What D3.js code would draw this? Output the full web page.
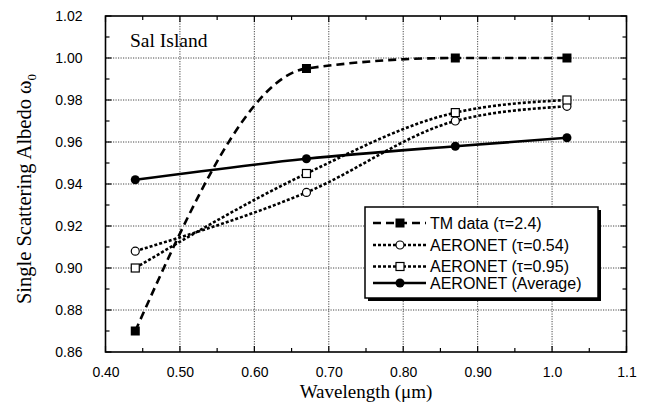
<!DOCTYPE html>
<html>
<head>
<meta charset="utf-8">
<script src="https://cdn.jsdelivr.net/npm/d3@7"></script>
<style>
  html, body { margin: 0; padding: 0; background: #fff; }
  svg { display: block; }
</style>
</head>
<body>
<svg id="chart" width="654" height="409"></svg>
<script>
// Wavelengths (µm) at which single scattering albedo was retrieved
const wavelengths = [0.44, 0.67, 0.87, 1.02];

// Single scattering albedo per data set
const tmData      = [0.870, 0.995, 1.000, 1.000];
const aeronet054  = [0.908, 0.936, 0.970, 0.977];
const aeronet095  = [0.900, 0.945, 0.974, 0.980];
const aeronetAvg  = [0.942, 0.952, 0.958, 0.962];

const seriesNames = ["TM data (\u03c4=2.4)", "AERONET (\u03c4=0.54)", "AERONET (\u03c4=0.95)", "AERONET (Average)"];

// Axis ticks and labels
const xTicks = [0.4, 0.5, 0.6, 0.7, 0.8, 0.9, 1.0, 1.1];
const xTickLabels = ["0.40", "0.50", "0.60", "0.70", "0.80", "0.90", "1.0", "1.1"];
const yTicks = [0.86, 0.88, 0.90, 0.92, 0.94, 0.96, 0.98, 1.00, 1.02];
const yTickLabels = ["0.86", "0.88", "0.90", "0.92", "0.94", "0.96", "0.98", "1.00", "1.02"];
const xMinorTicks = [0.45, 0.55, 0.65, 0.75, 0.85, 0.95, 1.05];
const yMinorTicks = [0.87, 0.89, 0.91, 0.93, 0.95, 0.97, 0.99, 1.01];

const svg = d3.select("#chart");
const L = 105.5, R = 626.5, T = 16, B = 352;

const x = d3.scaleLinear().domain([0.4, 1.1]).range([L, R]);
const y = d3.scaleLinear().domain([0.86, 1.02]).range([B, T]);

const sans = "'Liberation Sans', Arial, Helvetica, sans-serif";
const serif = "'Liberation Serif', 'Times New Roman', serif";

// Dotted grid at major ticks
const grid = svg.append("g").attr("stroke", "#333").attr("stroke-width", 0.9).attr("stroke-dasharray", "1.2,1.3");
grid.selectAll(".gx").data(xTicks.slice(1, -1)).join("line")
  .attr("x1", d => x(d)).attr("x2", d => x(d)).attr("y1", T).attr("y2", B);
grid.selectAll(".gy").data(yTicks.slice(1, -1)).join("line")
  .attr("x1", L).attr("x2", R).attr("y1", d => y(d)).attr("y2", d => y(d));

// Inward ticks on all four sides
const ticks = svg.append("g").attr("stroke", "#000").attr("stroke-width", 1.2);
[{ v: xTicks, len: 6 }, { v: xMinorTicks, len: 4 }].forEach(s => {
  ticks.append("g").selectAll("line").data(s.v).join("line")
    .attr("x1", d => x(d)).attr("x2", d => x(d)).attr("y1", B).attr("y2", B - s.len);
  ticks.append("g").selectAll("line").data(s.v).join("line")
    .attr("x1", d => x(d)).attr("x2", d => x(d)).attr("y1", T).attr("y2", T + s.len);
});
[{ v: yTicks, len: 6 }, { v: yMinorTicks, len: 4 }].forEach(s => {
  ticks.append("g").selectAll("line").data(s.v).join("line")
    .attr("x1", L).attr("x2", L + s.len).attr("y1", d => y(d)).attr("y2", d => y(d));
  ticks.append("g").selectAll("line").data(s.v).join("line")
    .attr("x1", R).attr("x2", R - s.len).attr("y1", d => y(d)).attr("y2", d => y(d));
});

// Tick labels via d3 axes
const xAxis = d3.axisBottom(x).tickValues(xTicks).tickSize(0).tickPadding(0)
  .tickFormat((d, i) => xTickLabels[i]);
svg.append("g").attr("transform", `translate(0,${B + 15})`).call(xAxis)
  .call(g => g.select(".domain").remove())
  .call(g => g.selectAll("text").attr("font-family", sans).attr("font-size", 14).attr("fill", "#000").attr("dy", "0.71em"));

const yAxis = d3.axisLeft(y).tickValues(yTicks).tickSize(0).tickPadding(0)
  .tickFormat((d, i) => yTickLabels[i]);
svg.append("g").attr("transform", `translate(${L - 23},0)`).call(yAxis)
  .call(g => g.select(".domain").remove())
  .call(g => g.selectAll("text").attr("font-family", sans).attr("font-size", 14).attr("fill", "#000"));

// Plot frame
svg.append("rect").attr("x", L).attr("y", T).attr("width", R - L).attr("height", B - T)
  .attr("fill", "none").attr("stroke", "#000").attr("stroke-width", 1.6);

// Series
const line = d3.line().x(d => x(d[0])).y(d => y(d[1])).curve(d3.curveMonotoneX);
const series = [
  { name: seriesNames[0], vals: tmData,     dash: "8,5", marker: "fsquare" },
  { name: seriesNames[1], vals: aeronet054, dash: "3,2", marker: "ocircle" },
  { name: seriesNames[2], vals: aeronet095, dash: "3,2", marker: "osquare" },
  { name: seriesNames[3], vals: aeronetAvg, dash: null,  marker: "fcircle" }
];

function drawMarker(g, kind, cx, cy) {
  if (kind === "fsquare") {
    g.append("rect").attr("x", cx - 4.5).attr("y", cy - 4.5).attr("width", 9).attr("height", 9).attr("fill", "#000");
  } else if (kind === "osquare") {
    g.append("rect").attr("x", cx - 4).attr("y", cy - 4).attr("width", 8).attr("height", 8)
      .attr("fill", "#fff").attr("stroke", "#000").attr("stroke-width", 1.2);
  } else if (kind === "ocircle") {
    g.append("circle").attr("cx", cx).attr("cy", cy).attr("r", 4)
      .attr("fill", "#fff").attr("stroke", "#000").attr("stroke-width", 1.2);
  } else {
    g.append("circle").attr("cx", cx).attr("cy", cy).attr("r", 4.5).attr("fill", "#000");
  }
}

series.forEach(s => {
  const pts = wavelengths.map((w, i) => [w, s.vals[i]]);
  svg.append("path").datum(pts).attr("d", line)
    .attr("fill", "none").attr("stroke", "#000").attr("stroke-width", 2.6)
    .attr("stroke-dasharray", s.dash);
});
series.forEach(s => {
  const g = svg.append("g");
  wavelengths.forEach((w, i) => drawMarker(g, s.marker, x(w), y(s.vals[i])));
});

// Site label
svg.append("text").attr("x", 130).attr("y", 47).text("Sal Island")
  .attr("font-family", serif).attr("font-size", 19.5).attr("fill", "#000");

// Axis titles
svg.append("text").attr("x", (L + R) / 2).attr("y", 398).attr("text-anchor", "middle")
  .attr("font-family", serif).attr("font-size", 19).attr("fill", "#000")
  .text("Wavelength (\u03bcm)");

const yt = svg.append("text").attr("transform", `translate(31,${(T + B) / 2 + 5}) rotate(-90)`)
  .attr("text-anchor", "middle").attr("font-family", serif).attr("font-size", 20.5).attr("fill", "#000");
yt.append("tspan").text("Single Scattering Albedo \u03c9");
yt.append("tspan").attr("font-size", 13).attr("dy", 5).text("0");

// Legend with drop shadow
const lg = svg.append("g");
const lx = 365, ly = 207, lw = 233, lh = 91;
lg.append("rect").attr("x", lx + 3).attr("y", ly + 3).attr("width", lw).attr("height", lh).attr("fill", "#000");
lg.append("rect").attr("x", lx).attr("y", ly).attr("width", lw).attr("height", lh)
  .attr("fill", "#fff").attr("stroke", "#000").attr("stroke-width", 1.5);
const rowY = [223, 245, 266.5, 283];
series.forEach((s, i) => {
  const ry = rowY[i];
  lg.append("line").attr("x1", 373).attr("x2", 426).attr("y1", ry).attr("y2", ry)
    .attr("stroke", "#000").attr("stroke-width", 2.6).attr("stroke-dasharray", s.dash);
  drawMarker(lg, s.marker, 400, ry);
  lg.append("text").attr("x", 430).attr("y", ry).attr("dy", "0.36em")
    .attr("font-family", sans).attr("font-size", 16).attr("fill", "#000").text(s.name);
});
</script>
</body>
</html>
